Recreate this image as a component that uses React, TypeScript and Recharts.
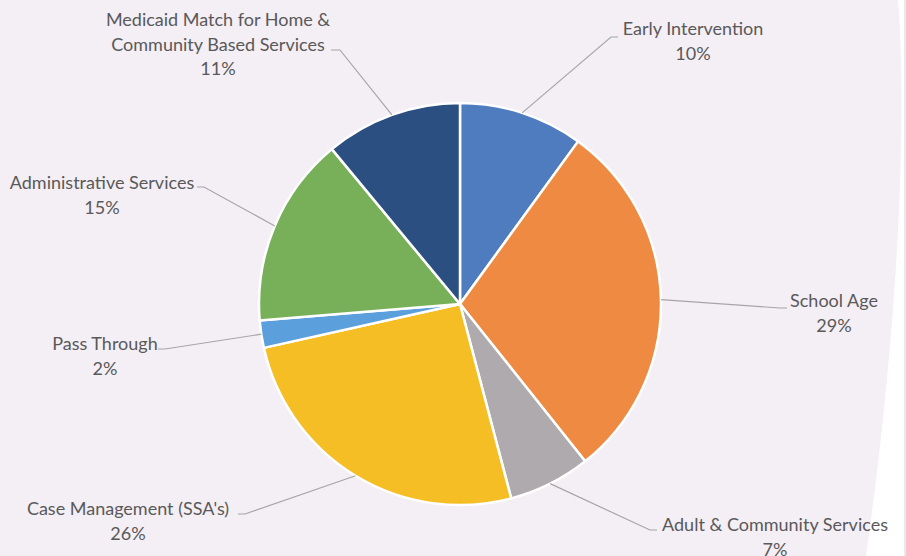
import React from "react";
import { PieChart, Pie, Cell } from "recharts";

const CATEGORIES = [
  "Early Intervention",
  "School Age",
  "Adult & Community Services",
  "Case Management (SSA's)",
  "Pass Through",
  "Administrative Services",
  "Medicaid Match for Home & Community Based Services",
];
const VALUES = [10.0, 29.3, 6.6, 25.6, 2.2, 15.3, 11.0];
const LABEL_TEXT = [
  ["Early Intervention"],
  ["School Age"],
  ["Adult & Community Services"],
  ["Case Management (SSA's)"],
  ["Pass Through"],
  ["Administrative Services"],
  ["Medicaid Match for Home &", "Community Based Services"],
];
const COLORS = ["#4e7cbf", "#ee8a42", "#aeaaad", "#f5be24", "#5b9fdc", "#78b05a", "#2b4f81"];

const W = 906;
const H = 556;
const CX = 460;
const CY = 304;
const R = 201;
const LINE_H = 24.5;

// label layout, relative to pie centre: text centre (tx, first line y), elbow (ex, ey), tail end (lx)
const LABEL_LAYOUT = [
  { tx: 233, ty: -276, ex: 151, ey: -267, lx: 158 },
  { tx: 374, ty: -4, ex: 320, ey: 4, lx: 327 },
  { tx: 315, ty: 220, ex: 190, ey: 226, lx: 197 },
  { tx: -332, ty: 204, ex: -215, ey: 210, lx: -222 },
  { tx: -355, ty: 39, ex: -295, ey: 45, lx: -302 },
  { tx: -358, ty: -122, ex: -256, ey: -117, lx: -263 },
  { tx: -242, ty: -285, ex: -120, ey: -254, lx: -129 },
];

const data = CATEGORIES.map((name, i) => ({ name, value: VALUES[i] }));
const total = VALUES.reduce((a, b) => a + b, 0);

const RADIAN = Math.PI / 180;

const renderLabel = (props: any) => {
  const { cx, cy, midAngle, outerRadius, index, value } = props;
  const lay = LABEL_LAYOUT[index];
  const sx = cx + outerRadius * Math.cos(-midAngle * RADIAN);
  const sy = cy + outerRadius * Math.sin(-midAngle * RADIAN);
  const lines = [...LABEL_TEXT[index], `${Math.round((value / total) * 100)}%`];
  return (
    <g key={`lbl-${index}`}>
      <polyline
        points={`${sx},${sy} ${cx + lay.ex},${cy + lay.ey} ${cx + lay.lx},${cy + lay.ey}`}
        fill="none"
        stroke="#a6a6a6"
        strokeWidth={1.2}
      />
      {lines.map((t, k) => (
        <text
          key={k}
          x={cx + lay.tx}
          y={cy + lay.ty + k * LINE_H}
          textAnchor="middle"
          dominantBaseline="central"
          fill="#595959"
          fontSize={18}
          fontFamily="Lato, 'Open Sans', sans-serif"
        >
          {t}
        </text>
      ))}
    </g>
  );
};

export default function App() {
  return (
    <div style={{ position: "absolute", left: 0, top: 0, width: W, height: H, background: "#ffffff", overflow: "hidden" }}>
      <svg width={W} height={H} style={{ position: "absolute", left: 0, top: 0 }}>
        <path d={`M 0 0 L 898 0 C 906 100, 902 300, 866 556 L 0 556 Z`} fill="#f4eef5" />
        <line x1={905} y1={0} x2={905} y2={H} stroke="#d9d0dc" strokeWidth={1} />
      </svg>
      <div style={{ position: "absolute", left: 0, top: 0 }}>
        <PieChart width={W} height={H} margin={{ top: 0, right: 0, bottom: 0, left: 0 }}>
          <Pie
            data={data}
            dataKey="value"
            nameKey="name"
            cx={CX}
            cy={CY}
            outerRadius={R}
            startAngle={90}
            endAngle={-270}
            stroke="#ffffff"
            strokeWidth={2.5}
            label={renderLabel}
            labelLine={false}
            isAnimationActive={false}
          >
            {data.map((d, i) => (
              <Cell key={d.name} fill={COLORS[i]} />
            ))}
          </Pie>
        </PieChart>
      </div>
    </div>
  );
}
